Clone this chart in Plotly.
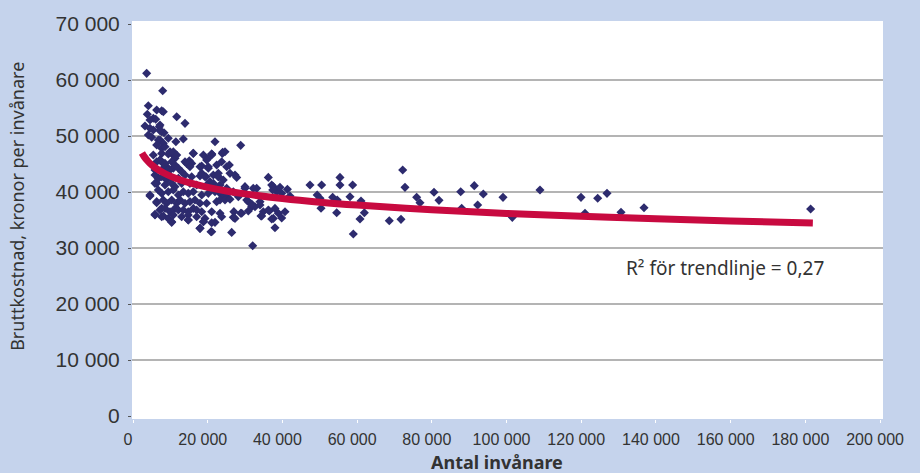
import plotly.graph_objects as go

# ---------------- data ----------------
inv_x = [
    3660, 7950, 4100, 3830, 6340, 7680, 8110, 5440, 6080, 11700, 13920, 3210, 4550, 5440, 7040, 7680,
    8300, 4100, 5000, 7230, 8110, 7680, 8570, 9450, 11480, 13470, 21950, 28830, 24000, 4550, 7230, 7230,
    6770, 6340, 16140, 21070, 10360, 11240,
    21070, 19890, 18390, 20160, 17940, 19540, 15070, 14370, 15710, 9900, 10790, 11240, 7230, 8110, 9020,
    9900, 10790, 5890, 6770, 6340, 22840, 25080, 25970, 27310, 27760, 20610, 23290, 21500, 29980, 33110,
    36220, 37130, 38470,
    4550, 6340, 7680, 5890, 8110, 10360, 14800, 17940, 18840, 20880, 21950, 26420, 23290, 27310, 28830,
    27000, 32040, 30440, 31770, 32660, 34000, 34880, 36220, 37560, 38010, 38900, 23290, 25080, 26860,
    28200, 25080,
    37560, 37400, 39350, 41330, 39810, 42030, 34450, 36490, 40690, 37130, 39810, 38010,
    58980, 47380, 50500, 49310, 50060, 50330, 53450, 54680, 54530, 55410, 55410, 58800, 58090, 61040,
    60770, 61930, 68610, 71740, 72200, 72810, 75940, 76830, 80580, 81920, 87730, 87990, 91360, 92270,
    93780, 99050, 101540, 108950, 119930, 121000, 124400, 126890, 130640, 136800, 181410,
    25790, 24170, 23740, 26860, 29100, 30870, 34270, 29980, 32200, 34000, 30870, 31770, 23290, 24630, 25970,
    5440, 7680, 9450, 10790, 11700, 16140, 18840, 21070, 23920, 24630,
    6340, 7230, 8570, 10360, 11240, 13920, 14800, 15240, 19710, 20160, 22400, 23740,
    5890, 8110, 9450, 12140, 13030, 17940, 18390, 21500, 22840,
    6770, 7680, 9020, 9900, 12140, 13920, 15710, 19270, 22840, 24170,
    5890, 8570, 10360, 11240, 13030, 15240, 17040, 19710, 21500,
    4550, 6770, 7680, 9450, 10790, 12140, 13470, 14800, 16140, 18390, 20160, 21950,
    6340, 8110, 9020, 10360, 11700, 12590, 13920, 15240, 16590, 17940, 19710, 22400,
    7230, 8570, 9900, 11240, 12140, 13470, 14800, 16140, 17040, 18390, 21070,
    5890, 7680, 9450, 10790, 13030, 14800, 17040, 19270,
    10360, 14800, 18840, 21070, 17940, 21070,
]
inv_y = [
    61200, 58100, 55420, 53900, 54650, 54530, 54350, 53170, 52990, 53460, 52270, 51790, 51380, 51080, 51670, 50780,
    50600, 50190, 49780, 49300, 48700, 47810, 48100, 49600, 48990, 49470, 48990, 48340, 47100, 52870, 51970, 50950,
    49290, 48400, 46920, 46790, 46920, 46440,
    46610, 45900, 44650, 44240, 42860, 42740, 45600, 45120, 45120, 47210, 46610, 46020, 45720, 45120, 44530,
    43940, 44240, 43040, 42450, 41550, 42740, 44530, 43340, 43040, 42620, 41850, 41260, 40960, 40960, 40660,
    42620, 41260, 40060,
    39290, 38100, 37100, 36020, 35720, 34590, 35000, 33520, 34700, 32910, 34590, 32790, 36200, 35290, 36200,
    36500, 30420, 38580, 37380, 37380, 37680, 36490, 36790, 35290, 37080, 36200, 39770, 39170, 40060,
    39170, 40660,
    40960, 40360, 40850, 40480, 39770, 39290, 35720, 36610, 36490, 35180, 35360, 33630,
    32500, 41260, 41260, 39470, 38880, 37100, 39060, 38580, 36310, 42620, 41260, 41260, 39170, 38400,
    35180, 36310, 34880, 35120, 43940, 40840, 39060, 38100, 39950, 38520, 40060, 37100, 41140, 37680,
    39650, 39050, 35480, 40360, 39050, 36200, 38880, 39770, 36380, 37200, 36970,
    44830, 39170, 35600, 35480, 36200, 36610, 35720, 40660, 40660, 38280, 38280, 37860, 38580, 38580, 38700,
    46610, 46900, 46790, 47210, 46610, 46900, 46610, 46790, 46900, 47210,
    45420, 45720, 45120, 45420, 44830, 45420, 45120, 44530, 45720, 44530, 44830, 45420,
    43940, 44240, 43940, 44240, 43640, 44530, 43340, 43040, 43340,
    42450, 42740, 42150, 42740, 42450, 43040, 42740, 42740, 42740, 42150,
    41550, 41260, 41550, 40960, 41550, 41550, 41260, 41260, 41550,
    39470, 40360, 39770, 40060, 40360, 39470, 40060, 39770, 40060, 39470, 39770, 40060,
    38280, 38580, 37990, 38580, 37990, 38580, 37990, 38280, 38580, 37990, 37990, 38280,
    36790, 37080, 36490, 37080, 36790, 36790, 36490, 37080, 36790, 36490, 36490,
    35900, 35600, 35290, 35900, 35600, 35900, 35600, 35290,
    34700, 35000, 34700, 34520, 33520, 32910,
]

# logarithmic trend line, read at a few positions along the drawn curve
trend_x = [2400, 3000, 4000, 5000, 6000, 8000, 10000, 12500, 15000, 20000, 25000, 30000, 40000,
           50000, 60000, 80000, 100000, 120000, 140000, 160000, 182000]
trend_y = [46970, 46330, 45500, 44850, 44320, 43490, 42850, 42200, 41670, 40840, 40190, 39670, 38840,
           38190, 37670, 36830, 36190, 35660, 35220, 34830, 34460]

y_ticks = [0, 10000, 20000, 30000, 40000, 50000, 60000, 70000]
y_tick_labels = ["0", "10 000", "20 000", "30 000", "40 000", "50 000", "60 000", "70 000"]
x_ticks = [0, 20000, 40000, 60000, 80000, 100000, 120000, 140000, 160000, 180000, 200000]
x_tick_labels = ["0", "20 000", "40 000", "60 000", "80 000", "100 000", "120 000", "140 000",
                 "160 000", "180 000", "200 000"]
grid_values = [10000, 20000, 30000, 40000, 50000, 60000]

x_title = "Antal invånare"
y_title = "Bruttkostnad, kronor per invånare"
r2_text = "R² för trendlinje = 0,27"

# ---------------- figure ----------------
BG = "#c5d3ec"
TXT = "#333333"

fig = go.Figure()
fig.add_trace(go.Scatter(
    x=inv_x, y=inv_y, mode="markers",
    marker=dict(symbol="diamond", size=7, color="#2d2b6e", line=dict(width=0)),
    showlegend=False, hoverinfo="x+y",
))
fig.add_trace(go.Scatter(
    x=trend_x, y=trend_y, mode="lines", line=dict(color="#c80a40", width=7, shape="spline"),
    showlegend=False, hoverinfo="skip",
))

shapes = []
for g in grid_values:
    shapes.append(dict(type="line", xref="paper", x0=0, x1=1, yref="y", y0=g, y1=g,
                       line=dict(color="#b4b4b4", width=2), layer="below"))

fig.update_layout(
    width=920, height=473,
    margin=dict(l=132, r=37, t=21, b=54),
    paper_bgcolor=BG, plot_bgcolor="white",
    shapes=shapes,
    font=dict(family="Liberation Sans, Arial, sans-serif", color=TXT),
    xaxis=dict(
        range=[-268, 200780], tickvals=x_ticks, ticktext=x_tick_labels,
        showgrid=False, zeroline=False, showline=False, automargin=False,
        ticks="outside", ticklen=3, tickcolor="white", tickwidth=1,
        tickfont=dict(size=16, family="Liberation Sans, Arial, sans-serif", color=TXT),
        ticklabelstandoff=3, ticklabelshift=-5,
    ),
    yaxis=dict(
        range=[-536, 70550], tickvals=y_ticks, ticktext=y_tick_labels,
        showgrid=False, zeroline=False, showline=False, automargin=False,
        ticks="outside", ticklen=3, tickcolor="#555555", tickwidth=1,
        tickfont=dict(size=21, family="Liberation Sans, Arial, sans-serif", color=TXT),
        ticklabelstandoff=4,
    ),
    annotations=[
        dict(text=r2_text, x=0.79, xref="paper", y=26500, yref="y", showarrow=False,
             xanchor="center", yanchor="middle",
             font=dict(size=19, family="Noto Sans, sans-serif", color=TXT)),
        dict(text=x_title, x=0.486, xref="paper", y=0, yref="paper", yshift=-43,
             showarrow=False, xanchor="center", yanchor="middle",
             font=dict(size=18, family="Noto Sans, sans-serif", color=TXT, weight="bold")),
        dict(text=y_title, x=0, xref="paper", xshift=-115, y=0.533, yref="paper",
             textangle=-90, showarrow=False, xanchor="center", yanchor="middle",
             font=dict(size=18, family="Noto Sans, sans-serif", color=TXT)),
    ],
)

fig.write_html(
    "out.html",
    config={"displayModeBar": False},
    post_script="document.body.style.margin='0';document.body.style.background='" + BG + "';",
)
